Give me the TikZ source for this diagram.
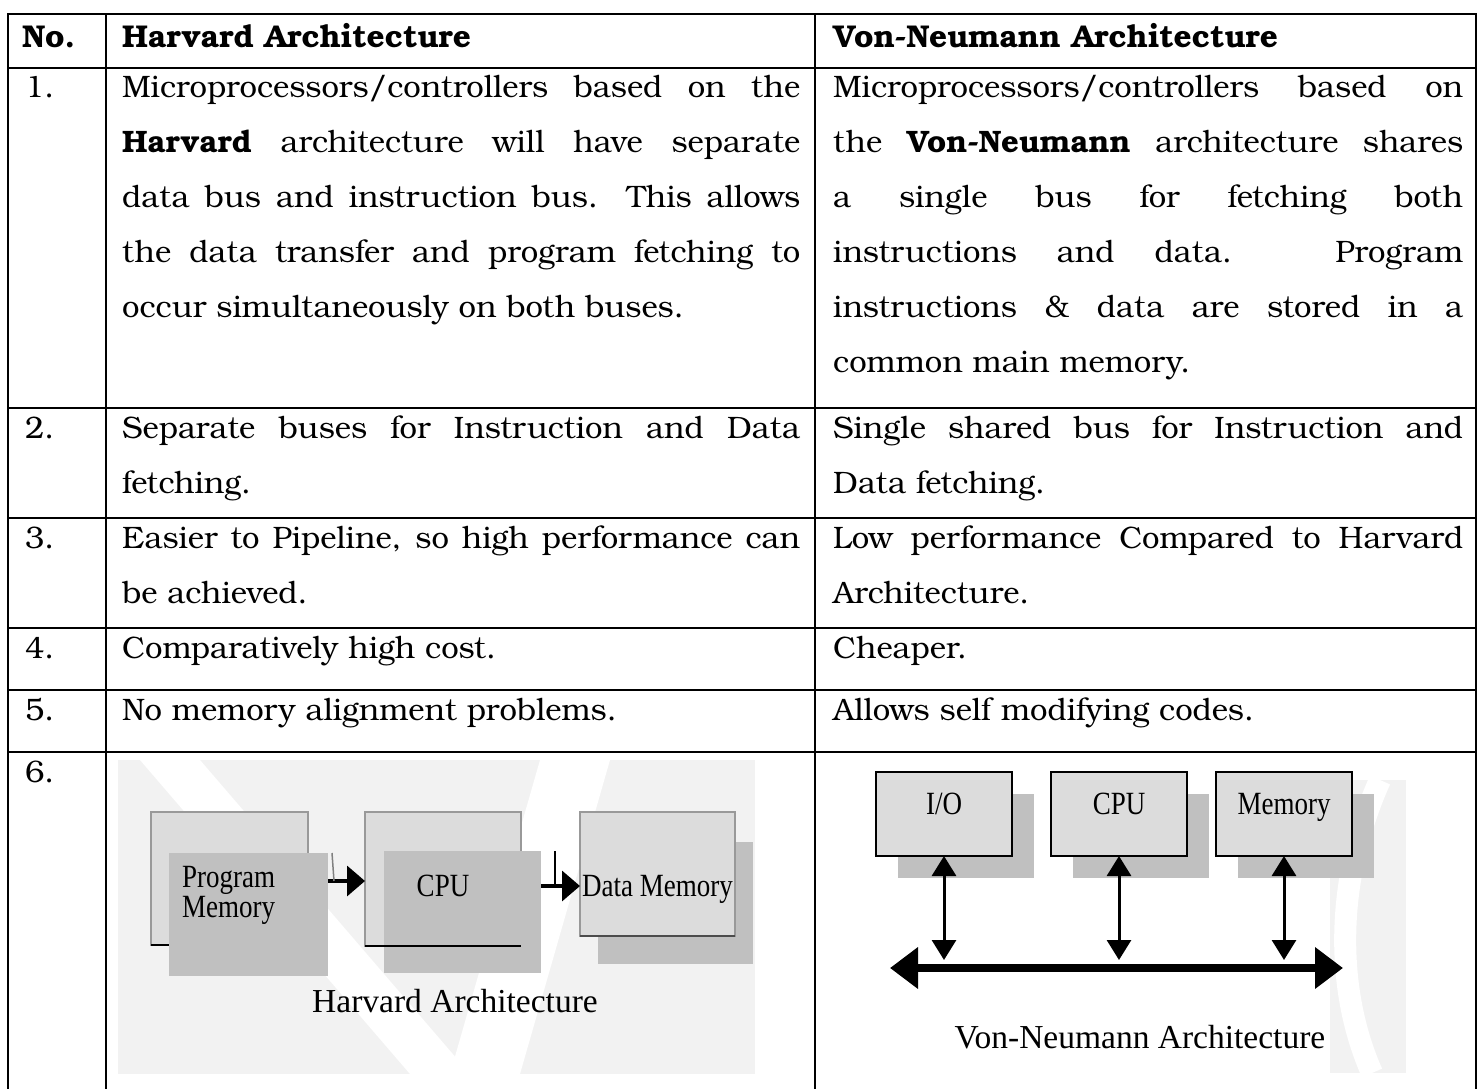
\documentclass[tikz,border=0pt]{standalone}
\usepackage{fontspec}
\setmainfont{texgyrebonum}[Extension=.otf,UprightFont=*-regular,BoldFont=*-bold,ItalicFont=*-italic,BoldItalicFont=*-bolditalic]
\newfontfamily\diagfont{Liberation Serif}
\usetikzlibrary{arrows.meta}
\definecolor{boxgray}{HTML}{DCDCDC}
\definecolor{shadegray}{HTML}{C0C0C0}
\definecolor{markgray}{HTML}{F2F2F2}
\newcommand{\lline}[1]{\makebox[678pt][s]{#1}}
\newcommand{\rline}[1]{\makebox[630pt][s]{#1}}
\newcommand{\cell}[1]{\begin{tabular}[t]{@{}l@{}}#1\end{tabular}}
\newcommand{\tall}[1]{\scalebox{1}[1.2]{#1}}
\begin{document}
\begin{tikzpicture}[x=1pt,y=-1pt,
  txt/.style={anchor=base west,inner sep=0pt,font=\fontsize{31}{55}\selectfont},
  hd/.style={anchor=base west,inner sep=0pt,font=\bfseries\fontsize{31.5}{36}\selectfont},
  lbl/.style={inner sep=0pt,font=\diagfont\fontsize{27}{25}\selectfont},
  captxt/.style={inner sep=0pt,anchor=base,font=\diagfont\fontsize{33.5}{36}\selectfont},
  back/.style={fill=boxgray,draw=gray!80,line width=1.2pt,inner sep=0pt,outer sep=0pt,anchor=north west},
  front/.style={fill=shadegray,inner sep=0pt,outer sep=0pt,anchor=north west},
  vbox/.style={fill=boxgray,draw=black,line width=1.5pt,inner sep=0pt,outer sep=0pt,anchor=north west,minimum width=136pt,minimum height=84pt},
  vshade/.style={fill=shadegray,inner sep=0pt,outer sep=0pt,anchor=north west,minimum width=136pt,minimum height=84pt},
  harr/.style={line width=3.5pt,-{Triangle[length=18pt,width=30pt]}},
  varr/.style={line width=3pt,{Triangle[length=20pt,width=24pt]}-{Triangle[length=20pt,width=24pt]}},
  busarr/.style={line width=8pt,{Triangle[length=28pt,width=40pt]}-{Triangle[length=28pt,width=40pt]}}]
\useasboundingbox (0,0) rectangle (1481,1089);

\fill[markgray] (118,760) rectangle (755,1074);
\fill[white] (140,760) -- (200,760) -- (470,1074) -- (410,1074) -- cycle;
\fill[white] (540,760) -- (610,760) -- (520,1074) -- (450,1074) -- cycle;
\fill[markgray] (1330,780) rectangle (1406,1073);
\draw[white,line width=22pt] (1380,780) .. controls (1335,880) and (1335,990) .. (1372,1073);

\draw[line width=2.5pt] (8,1089) -- (8,14) -- (1476,14) -- (1476,1089);
\foreach \y in {68,408,518,628,690,752} \draw[line width=2.5pt] (8,\y) -- (1476,\y);
\foreach \x in {106,815} \draw[line width=2.5pt] (\x,14) -- (\x,1089);

\node[hd] (hno) at (22,48) {No.};
\node[hd] (hharv) at (122,48) {Harvard Architecture};
\node[hd] (hvon) at (833,48) {Von-Neumann Architecture};

\foreach \n/\y in {1/98,2/438,3/548,4/658,5/720,6/782}
  \node[txt] (n\n) at (25,\y) {\n.};

\node[txt] (harv1) at (122,98) {\cell{\lline{Microprocessors/controllers based on the}\\
  \lline{\textbf{Harvard} architecture will have separate}\\
  \lline{data bus and instruction bus. This allows}\\
  \lline{the data transfer and program fetching to}\\
  occur simultaneously on both buses.}};
\node[txt] (von1) at (833,98) {\cell{\rline{Microprocessors/controllers based on}\\
  \rline{the \textbf{Von-Neumann} architecture shares}\\
  \rline{a single bus for fetching both}\\
  \rline{instructions and data. Program}\\
  \rline{instructions \& data are stored in a}\\
  common main memory.}};
\node[txt] (harv2) at (122,438) {\cell{\lline{Separate buses for Instruction and Data}\\ fetching.}};
\node[txt] (von2) at (833,438) {\cell{\rline{Single shared bus for Instruction and}\\ Data fetching.}};
\node[txt] (harv3) at (122,548) {\cell{\lline{Easier to Pipeline, so high performance can}\\ be achieved.}};
\node[txt] (von3) at (833,548) {\cell{\rline{Low performance Compared to Harvard}\\ Architecture.}};
\node[txt] (harv4) at (122,658) {Comparatively high cost.};
\node[txt] (von4) at (833,658) {Cheaper.};
\node[txt] (harv5) at (122,720) {No memory alignment problems.};
\node[txt] (von5) at (833,720) {Allows self modifying codes.};

\node[back,minimum width=157pt,minimum height=133pt] (pmb) at (151,812) {};
\node[back,minimum width=156pt,minimum height=134pt] (cpub) at (365,812) {};
\node[front,minimum width=159pt,minimum height=123pt] (pm) at (169,853) {};
\node[front,minimum width=157pt,minimum height=122pt] (cpu) at (384,851) {};
\node[front,minimum width=155pt,minimum height=122pt] (dms) at (598,842) {};
\node[back,minimum width=155pt,minimum height=124pt] (dm) at (580,812) {};
\draw[line width=1.8pt] (pmb.south west) -- (pmb.south west -| pm.west);
\draw[line width=1.8pt] (cpub.south west) -- (cpub.south east);
\draw[line width=1.2pt,gray!60!black] (dm.south west) -- (dm.south east);

\coordinate (a1) at ([yshift=-28pt]pm.north east);
\coordinate (a2) at ([yshift=-35pt]cpu.north east);
\draw[harr] (a1) -- (a1 -| cpub.west);
\draw[harr] (a2) -- (a2 -| dm.west);
\draw[line width=1.5pt,gray] ([xshift=4pt]pm.north east) -- ([xshift=6pt]a1);
\draw[line width=2pt] ([xshift=14pt]cpu.north east) -- ([xshift=14pt]a2);

\node[lbl,anchor=north west] (pmtxt) at (182,866) {\tall{\begin{tabular}{@{}l@{}}Program\\Memory\end{tabular}}};
\node[lbl,anchor=base] (cputxt) at ([yshift=-84pt]cpub.north) {\tall{CPU}};
\node[lbl,anchor=base west] (dmtxt) at (582,896) {\tall{Data Memory}};
\node[captxt] (hcap) at (455,1012) {Harvard Architecture};

\foreach \n/\x/\t in {io/876/{I/O},vcpu/1051/CPU,vmem/1216/Memory}{
  \node[vshade] at (\x+22,794) {};
  \node[vbox] (\n) at (\x,772) {};
  \node[lbl,anchor=base] at ([yshift=-42pt]\n.north) {\tall{\t}};
}
\coordinate (busL) at (890,968);
\coordinate (busR) at (1343,968);
\coordinate (bustop) at (0,960);
\draw[busarr] (busL) -- (busR);
\foreach \n in {io,vcpu,vmem} \draw[varr] (\n.south) -- (\n.south |- bustop);
\node[captxt] (vcap) at (1140,1048) {Von-Neumann Architecture};
\end{tikzpicture}
\end{document}
